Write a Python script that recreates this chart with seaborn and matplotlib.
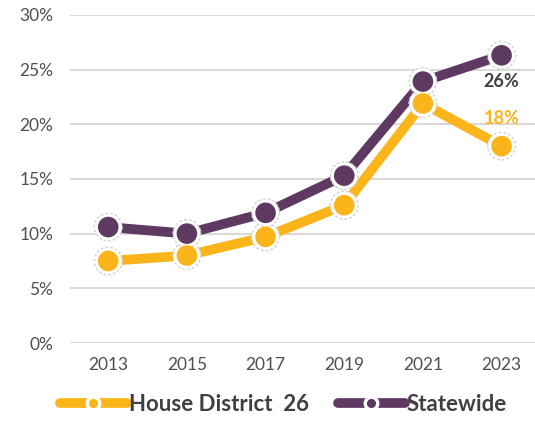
import matplotlib
matplotlib.use("Agg")
import matplotlib.pyplot as plt
from matplotlib.lines import Line2D
import pandas as pd
import seaborn as sns

years = [2013, 2015, 2017, 2019, 2021, 2023]
house_district = [7.5, 8.0, 9.7, 12.6, 21.9, 18.0]
statewide = [10.6, 10.0, 11.9, 15.3, 23.9, 26.3]
series_names = ["House District  26", "Statewide"]
colors = ["#FBB51B", "#5E3A63"]
label_colors = ["#FBB51B", "#404040"]

df = pd.DataFrame({
    "Year": years * 2,
    "Value": house_district + statewide,
    "Series": [series_names[0]] * len(years) + [series_names[1]] * len(years),
})

sns.set_style("white")
plt.rcParams["font.family"] = ["Lato", "DejaVu Sans"]

fig = plt.figure(figsize=(5.35, 4.24), dpi=100)
ax = fig.add_axes([0.131, 0.191, 0.869, 0.774])

sns.lineplot(data=df, x="Year", y="Value", hue="Series", palette=colors,
             linewidth=7, legend=False, ax=ax, zorder=3)

for name, col in zip(series_names, colors):
    sub = df[df["Series"] == name]
    ax.scatter(sub["Year"], sub["Value"], s=400, color="white", edgecolor="#D3D3D3",
               linewidth=1.0, linestyle=(0, (2, 1.5)), zorder=4, clip_on=False)
    ax.scatter(sub["Year"], sub["Value"], s=220, color=col, edgecolor="none",
               zorder=5, clip_on=False)

# end labels
ax.annotate(f"{statewide[-1]:.0f}%", (years[-1], statewide[-1]), xytext=(0, -19),
            textcoords="offset points", ha="center", va="center", fontsize=13,
            fontweight="bold", color=label_colors[1], zorder=6)
ax.annotate(f"{house_district[-1]:.0f}%", (years[-1], house_district[-1]), xytext=(0, 20),
            textcoords="offset points", ha="center", va="center", fontsize=13,
            fontweight="bold", color=label_colors[0], zorder=6)

ax.set_xlim(2012.03, 2023.85)
ax.set_ylim(0, 30)
ax.set_yticks(range(0, 31, 5))
ax.set_yticklabels([f"{v}%" for v in range(0, 31, 5)])
ax.set_xticks(years)
ax.set_xticklabels([str(y) for y in years])
ax.tick_params(axis="both", length=0, labelsize=12.5, labelcolor="#505050")
ax.tick_params(axis="y", pad=12)
ax.tick_params(axis="x", pad=10)
ax.set_xlabel("")
ax.set_ylabel("")
ax.grid(axis="y", color="#D9D9D9", linewidth=1.5)
ax.set_axisbelow(True)
sns.despine(ax=ax, left=True, bottom=True)

handles = [Line2D([0], [0], color=c, linewidth=7, marker="o", markersize=9,
                  markerfacecolor=c, markeredgecolor="white", markeredgewidth=2.4,
                  solid_capstyle="round")
           for c in colors]
fig.legend(handles, series_names, loc="lower center", bbox_to_anchor=(0.53, -0.025),
           ncol=2, frameon=False, handlelength=3.0, handletextpad=0.1,
           columnspacing=1.3, prop={"weight": "bold", "size": 16})
for t in fig.legends[0].get_texts():
    t.set_color("#404040")

fig.savefig("out.png", dpi=100)
